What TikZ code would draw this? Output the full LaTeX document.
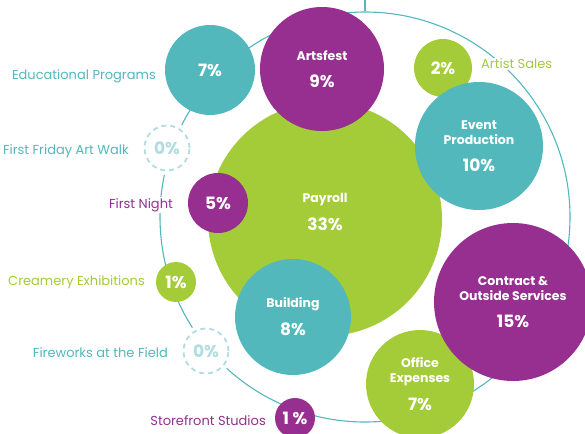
\documentclass[tikz,border=0pt]{standalone}
\usepackage{fontspec}
\setmainfont{Poppins}
\usetikzlibrary{positioning}
\definecolor{myteal}{RGB}{83, 184, 188}
\definecolor{mygreen}{RGB}{163, 204, 56}
\definecolor{mypurple}{RGB}{150, 47, 143}
\definecolor{mylight}{RGB}{178, 221, 224}
\newcommand{\pct}[1]{{\fontsize{17}{15.5}\selectfont #1}}

\begin{document}
\begin{tikzpicture}[x=1pt, y=-1pt,
	bubble/.style={circle, inner sep=0pt, text=white, align=center,
		font=\bfseries\fontsize{12.5}{15.5}\selectfont},
	zero/.style={circle, inner sep=0pt, minimum size=45, fill=white, draw=mylight,
		line width=1.8pt, dash pattern=on 5pt off 4pt, text=mylight,
		preaction={draw=white, solid, line width=9pt},
		font=\bfseries\fontsize{17}{15}\selectfont},
	lbl/.style={fill=white, inner sep=1pt, font=\fontsize{13}{15}\selectfont}]
	
	\useasboundingbox (0,0) rectangle (585,433);
	
	% the ring and its stub
	\node[circle, draw=myteal, line width=1.1pt, minimum size=410, inner sep=0pt] (ring) at (365,217) {};
	\coordinate (top) at (365,0);
	\draw[myteal, line width=1.1pt] (ring.north) -- (top);
	
	% labels
	\foreach \name/\x/\y/\col/\txt in {
		edu-l/157/76/myteal/Educational Programs,
		walk-l/130/151/myteal/First Friday Art Walk,
		night-l/174/205/mypurple/First Night,
		cream-l/146/282/mygreen/Creamery Exhibitions,
		fire-l/169/353/myteal/Fireworks at the Field,
		store-l/267/421/mypurple/Storefront Studios
	}{
		\node[lbl, text=\col, anchor=east] (\name) at (\x,\y) {\txt};
	}
	\node[lbl, text=mygreen, anchor=west] (sales-l) at (480,64) {Artist Sales};
	
	% big bubbles underneath
	\node[bubble, fill=mygreen, minimum size=234] (payroll) at (325,219) {};
	\node[bubble] (payroll-t) at (325,212) {Payroll\\[11pt]\pct{33\%}};
	\node[bubble, fill=mygreen, minimum size=108] (office) at (420,384) {Office\\Expenses\\[11pt]\pct{7\%}};
	
	% small bubbles
	\foreach \name/\x/\y/\d/\col/\pc in {
		edu/210/70/90/myteal/7,
		sales/443/68/58/mygreen/2,
		night/218/203/60/mypurple/5,
		cream/176/282/40/mygreen/1,
		store/295/418/40/mypurple/1
	}{
		\node[bubble, fill=\col, minimum size=\d] (\name) at (\x,\y) {\pct{\pc\%}};
	}
	
	% bubbles on top
	\node[bubble, fill=mypurple, minimum size=124] (arts) at (322,69) {Artsfest\\[11pt]\pct{9\%}};
	\node[bubble, fill=myteal, minimum size=128] (event) at (479,146) {Event\\Production\\[11pt]\pct{10\%}};
	\node[bubble, fill=myteal, minimum size=116] (building) at (293,317) {Building\\[11pt]\pct{8\%}};
	\node[bubble, fill=mypurple, minimum size=158] (contract) at (513,302) {Contract \&\\Outside Services\\[11pt]\pct{15\%}};
	
	% zero bubbles
	\node[zero] (walk) at (167,148) {0\%};
	\node[zero] (fire) at (206,351) {0\%};
	
\end{tikzpicture}
\end{document}
